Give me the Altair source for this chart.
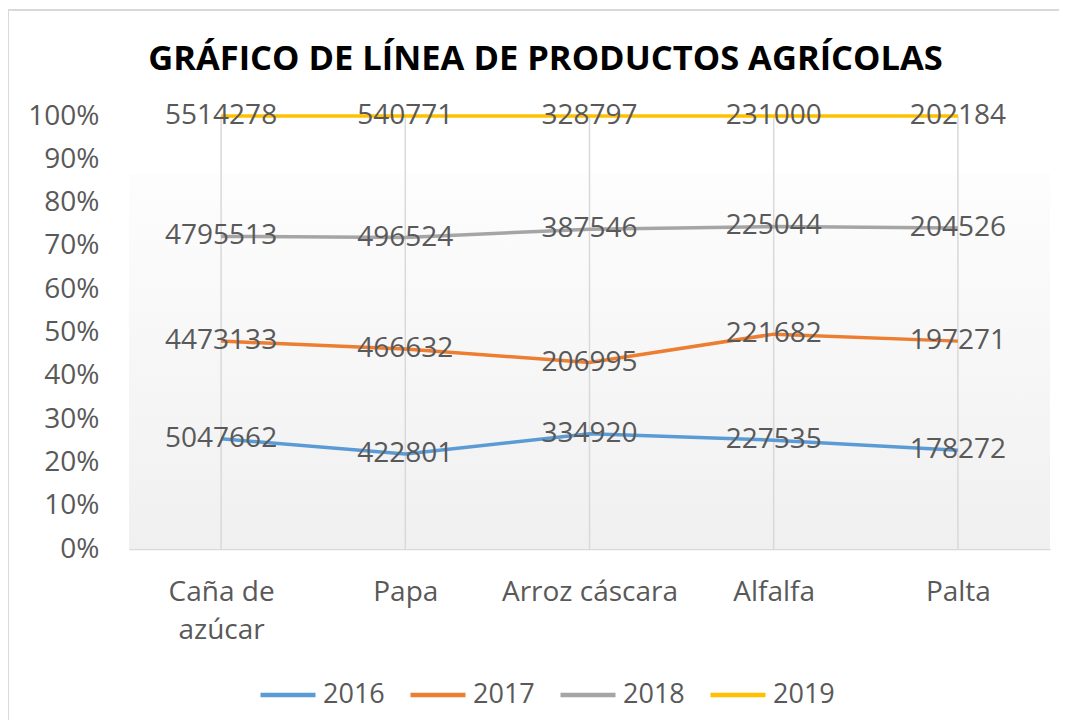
import altair as alt
import pandas as pd

categories = ["Caña de azúcar", "Papa", "Arroz cáscara", "Alfalfa", "Palta"]
years = ["2016", "2017", "2018", "2019"]
v2016 = [5047662, 422801, 334920, 227535, 178272]
v2017 = [4473133, 466632, 206995, 221682, 197271]
v2018 = [4795513, 496524, 387546, 225044, 204526]
v2019 = [5514278, 540771, 328797, 231000, 202184]
colors = ["#5B9BD5", "#ED7D31", "#A5A5A5", "#FFC000"]
y_ticks = [0, 0.1, 0.2, 0.3, 0.4, 0.5, 0.6, 0.7, 0.8, 0.9, 1.0]

rows = []
for yr, vals in zip(years, [v2016, v2017, v2018, v2019]):
    for c, v in zip(categories, vals):
        rows.append({"categoria": c, "anio": yr, "valor": v})
df = pd.DataFrame(rows)

W, H = 921, 433
FONT = "Open Sans"
GRAY = "#595959"

base = alt.Chart(df).transform_joinaggregate(
    total="sum(valor)", groupby=["categoria"]
).transform_window(
    cum="sum(valor)", groupby=["categoria"], sort=[alt.SortField("anio")], frame=[None, 0]
).transform_calculate(
    pct="datum.cum / datum.total"
)

xscale = alt.Scale(type="point", domain=categories, padding=0.5)
xaxis = alt.Axis(title=None, labelAngle=0, ticks=False, grid=False,
                 domainColor="#d9d9d9", domainWidth=1.5,
                 labelFont=FONT, labelFontSize=28, labelColor=GRAY,
                 labelPadding=29, labelLineHeight=38,
                 labelExpr="datum.label == 'Caña de azúcar' ? ['Caña de', 'azúcar'] : datum.label")
xenc = alt.X("categoria:N", sort=categories, scale=xscale, axis=xaxis)
yenc = alt.Y("pct:Q", scale=alt.Scale(domain=[0, 1]),
             axis=alt.Axis(title=None, values=y_ticks, format=".0%", grid=False, ticks=False,
                           domain=False, labelFont=FONT, labelFontSize=28, labelColor=GRAY,
                           labelPadding=30))

border = alt.Chart(alt.Data(values=[{}])).mark_rect(
    fill=None, stroke="#d9d9d9", strokeWidth=2
).encode(x=alt.value(-121), x2=alt.value(W + 60), y=alt.value(-106), y2=alt.value(H + 300))

grad = alt.Chart(alt.Data(values=[{}])).mark_rect(
    fill=alt.Gradient(gradient="linear", x1=0, y1=0, x2=0, y2=1,
                      stops=[alt.GradientStop(offset=0, color="#ffffff"),
                             alt.GradientStop(offset=0.13, color="#ffffff"),
                             alt.GradientStop(offset=0.135, color="#fdfdfd"),
                             alt.GradientStop(offset=1, color="#f0f0f0")])
).encode(x=alt.value(0), x2=alt.value(W), y=alt.value(0), y2=alt.value(H))

grid = alt.Chart(pd.DataFrame({"categoria": categories})).mark_rule(
    color="#d9d9d9", strokeWidth=1.5
).encode(x=xenc, y=alt.value(0), y2=alt.value(H))

lines = base.mark_line(strokeWidth=3.5).encode(
    x=xenc, y=yenc,
    color=alt.Color("anio:N", scale=alt.Scale(domain=years, range=colors),
                    legend=alt.Legend(title=None, orient="none", direction="horizontal",
                                      legendX=129, legendY=549, symbolType="stroke",
                                      symbolSize=3025, symbolStrokeWidth=4.5,
                                      labelFont=FONT, labelFontSize=27, labelColor=GRAY,
                                      labelOffset=5, columnPadding=16)),
    detail="anio:N"
)

labels = base.mark_text(font=FONT, fontSize=28, color=GRAY, baseline="middle").encode(
    x=xenc, y=yenc, text=alt.Text("valor:Q", format="d")
)

chart = alt.layer(border, grad, grid, lines, labels).properties(
    width=W, height=H,
    autosize=alt.AutoSizeParams(type="none"),
    padding={"left": 121, "top": 108, "right": 9, "bottom": 171},
    title=alt.TitleParams("GRÁFICO DE LÍNEA DE PRODUCTOS AGRÍCOLAS", font=FONT,
                          fontSize=34.5, fontWeight="bold", color="#000000",
                          anchor="middle", frame="group", dx=-44, offset=-68)
).configure_view(stroke=None)

chart.save("out.html", embed_options={"renderer": "svg", "actions": False})
